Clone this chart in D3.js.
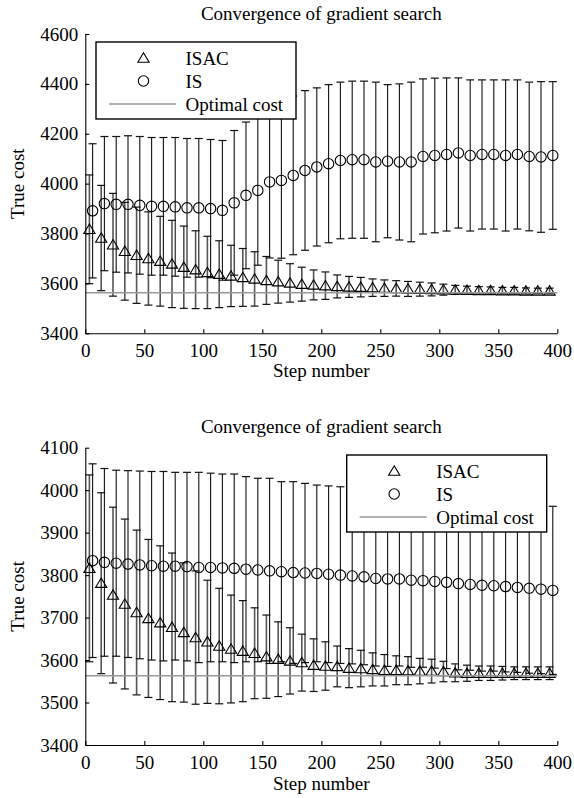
<!DOCTYPE html>
<html>
<head>
<meta charset="utf-8">
<script src="https://cdn.jsdelivr.net/npm/d3@7/dist/d3.min.js"></script>
<style>
  body { margin: 0; background: #fff; }
  text { font-family: "Liberation Serif", "Times New Roman", serif; }
</style>
</head>
<body>
<script>
// step numbers (x) shared by both panels
var steps = [5, 15, 25, 35, 45, 55, 65, 75, 85, 95, 105, 115, 125, 135, 145, 155, 165, 175, 185, 195,
             205, 215, 225, 235, 245, 255, 265, 275, 285, 295, 305, 315, 325, 335, 345, 355, 365, 375, 385, 395];

var optimalCost = 3563;

// upper panel
var isacMeanA = [3817, 3782, 3755, 3729, 3713, 3700, 3689, 3678, 3665, 3655, 3644, 3637, 3630, 3624, 3618, 3612, 3607, 3602, 3597, 3594,
                 3591, 3588, 3586, 3585, 3583, 3581, 3580, 3578, 3577, 3576, 3575, 3574, 3573, 3572, 3572, 3571, 3571, 3570, 3570, 3570];
var isacErrA  = [218, 211, 206, 196, 193, 187, 180, 175, 165, 156, 145, 134, 123, 116, 109, 96, 86, 77, 68, 60,
                 55, 46, 42, 39, 35, 33, 31, 30, 28, 26, 22, 18, 16, 15, 14, 13, 13, 12, 11, 11];
var isMeanA   = [3891, 3920, 3917, 3917, 3913, 3909, 3909, 3907, 3903, 3903, 3900, 3893, 3923, 3953, 3973, 4007, 4013, 4033, 4053, 4067,
                 4080, 4093, 4096, 4096, 4087, 4090, 4087, 4087, 4109, 4113, 4117, 4123, 4113, 4117, 4117, 4113, 4117, 4109, 4107, 4113];
var isErrA    = [269, 269, 272, 275, 276, 276, 276, 278, 278, 278, 277, 280, 290, 294, 300, 305, 312, 318, 320, 317,
                 317, 314, 315, 315, 320, 307, 313, 320, 311, 310, 307, 301, 303, 299, 299, 303, 299, 298, 302, 296];
var yTicksA = [3400, 3600, 3800, 4000, 4200, 4400, 4600];

// lower panel
var isacMeanB = [3816, 3781, 3753, 3732, 3712, 3698, 3688, 3677, 3665, 3653, 3643, 3633, 3626, 3621, 3616, 3608, 3602, 3598, 3594, 3588,
                 3586, 3585, 3581, 3580, 3578, 3576, 3576, 3575, 3574, 3574, 3573, 3570, 3569, 3569, 3569, 3569, 3569, 3569, 3569, 3569];
var isacErrB  = [220, 213, 207, 200, 194, 186, 181, 175, 164, 157, 145, 136, 127, 119, 107, 98, 88, 78, 67, 62,
                 57, 48, 46, 43, 39, 37, 34, 33, 30, 28, 24, 21, 19, 17, 17, 16, 15, 15, 15, 15];
var isMeanB   = [3834, 3830, 3828, 3826, 3824, 3822, 3821, 3821, 3820, 3818, 3818, 3817, 3816, 3814, 3812, 3810, 3808, 3806, 3805, 3804,
                 3802, 3800, 3798, 3796, 3792, 3791, 3791, 3788, 3787, 3785, 3783, 3780, 3778, 3776, 3775, 3773, 3771, 3769, 3767, 3764];
var isErrB    = [228, 221, 219, 220, 221, 222, 223, 221, 222, 224, 222, 221, 222, 218, 216, 218, 212, 214, 211, 208,
                 208, 208, 207, 207, 206, 206, 205, 205, 204, 204, 203, 203, 202, 202, 201, 201, 200, 200, 199, 198];
var yTicksB = [3400, 3500, 3600, 3700, 3800, 3900, 4000, 4100];

var xTicks = [0, 50, 100, 150, 200, 250, 300, 350, 400];
var legendLabels = ["ISAC", "IS", "Optimal cost"];

var W = 574, H = 798;
var FS = 19;
var triPath = "M0,-5.2L5.6,4.2L-5.6,4.2Z";

var svg = d3.select("body").append("svg")
    .attr("width", W)
    .attr("height", H);

var x = d3.scaleLinear().domain([0, 400]).range([85.3, 557.3]);

function drawPanel(p) {
  var y = d3.scaleLinear().domain(p.yDomain).range([p.bottom, p.top]);
  var g = svg.append("g");

  function errorBars(mean, err, dx, lineColor, lineW, capColor) {
    var bars = g.append("g");
    steps.forEach(function(s, i) {
      var cx = x(s) + dx,
          y1 = y(mean[i] + err[i]),
          y2 = y(mean[i] - err[i]);
      bars.append("line")
          .attr("x1", cx).attr("x2", cx).attr("y1", y1).attr("y2", y2)
          .attr("stroke", lineColor).attr("stroke-width", lineW);
      [y1, y2].forEach(function(yy) {
        bars.append("line")
            .attr("x1", cx - 4).attr("x2", cx + 4).attr("y1", yy).attr("y2", yy)
            .attr("stroke", capColor).attr("stroke-width", 1.2);
      });
    });
  }

  errorBars(p.isacMean, p.isacErr, -1.8, "#555", 1.6, "#111");
  errorBars(p.isMean, p.isErr, 1.4, "#111", 1.1, "#111");

  g.selectAll(".tri").data(steps).enter().append("path")
      .attr("class", "tri")
      .attr("d", triPath)
      .attr("transform", function(s, i) { return "translate(" + (x(s) - 1.8) + "," + y(p.isacMean[i]) + ")"; })
      .attr("fill", "none").attr("stroke", "#000").attr("stroke-width", 1.1);

  g.selectAll(".circ").data(steps).enter().append("circle")
      .attr("class", "circ")
      .attr("cx", function(s) { return x(s) + 1.4; })
      .attr("cy", function(s, i) { return y(p.isMean[i]); })
      .attr("r", 5.2)
      .attr("fill", "none").attr("stroke", "#000").attr("stroke-width", 1.1);

  g.append("line")
      .attr("x1", x(0)).attr("x2", x(400))
      .attr("y1", y(optimalCost)).attr("y2", y(optimalCost))
      .attr("stroke", "#9a9a9a").attr("stroke-width", 1.5);

  // axes, ticks pointing inward
  var ax = g.append("g")
      .attr("transform", "translate(0," + p.bottom + ")")
      .call(d3.axisBottom(x).tickValues(xTicks).tickSizeInner(-4).tickSizeOuter(0).tickPadding(10.5));
  var ay = g.append("g")
      .attr("transform", "translate(" + x(0) + ",0)")
      .call(d3.axisLeft(y).tickValues(p.yTicks).tickFormat(d3.format("d")).tickSizeInner(-4).tickSizeOuter(0).tickPadding(7));
  [ax, ay].forEach(function(a) {
    a.selectAll("text").attr("font-size", FS).attr("font-family", "Liberation Serif").attr("fill", "#000");
    a.selectAll("line, path").attr("stroke", "#000").attr("stroke-width", 1.1);
  });

  g.append("text")
      .attr("x", (x(0) + x(400)) / 2).attr("y", p.titleY)
      .attr("text-anchor", "middle").attr("font-size", FS)
      .text("Convergence of gradient search");
  g.append("text")
      .attr("x", (x(0) + x(400)) / 2).attr("y", p.xLabelY)
      .attr("text-anchor", "middle").attr("font-size", FS)
      .text("Step number");
  g.append("text")
      .attr("transform", "translate(24," + (p.top + p.bottom) / 2 + ") rotate(-90)")
      .attr("text-anchor", "middle").attr("font-size", FS)
      .text("True cost");

  // legend
  var lg = g.append("g").attr("transform", "translate(" + p.legend[0] + "," + p.legend[1] + ")");
  lg.append("rect")
      .attr("width", 200).attr("height", 77)
      .attr("fill", "#fff").attr("stroke", "#000").attr("stroke-width", 1.4);
  var rowY = [16, 39, 62];
  lg.append("path").attr("d", triPath)
      .attr("transform", "translate(47.5," + rowY[0] + ")")
      .attr("fill", "none").attr("stroke", "#000").attr("stroke-width", 1.1);
  lg.append("circle").attr("cx", 47.5).attr("cy", rowY[1]).attr("r", 5.2)
      .attr("fill", "none").attr("stroke", "#000").attr("stroke-width", 1.1);
  lg.append("line").attr("x1", 13).attr("x2", 80).attr("y1", rowY[2]).attr("y2", rowY[2])
      .attr("stroke", "#9a9a9a").attr("stroke-width", 1.5);
  legendLabels.forEach(function(t, i) {
    lg.append("text")
        .attr("x", 89.5).attr("y", rowY[i]).attr("dy", "0.35em")
        .attr("font-size", FS)
        .text(t);
  });
}

drawPanel({
  yDomain: [3400, 4600], yTicks: yTicksA, top: 34, bottom: 333.3,
  isacMean: isacMeanA, isacErr: isacErrA, isMean: isMeanA, isErr: isErrA,
  titleY: 20, xLabelY: 377, legend: [96, 42]
});

drawPanel({
  yDomain: [3400, 4100], yTicks: yTicksB, top: 447.7, bottom: 745,
  isacMean: isacMeanB, isacErr: isacErrB, isMean: isMeanB, isErr: isErrB,
  titleY: 433, xLabelY: 790, legend: [346.7, 455]
});
</script>
</body>
</html>
